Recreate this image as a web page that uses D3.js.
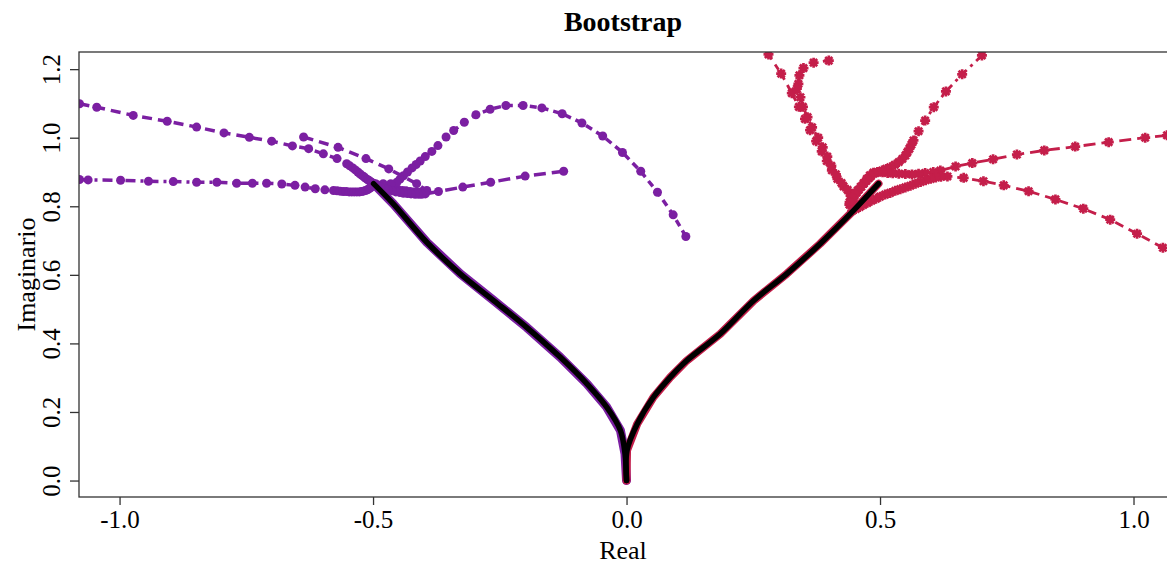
<!DOCTYPE html>
<html>
<head>
<meta charset="utf-8">
<script src="https://cdn.jsdelivr.net/npm/d3@7"></script>
<style>
  body { margin: 0; background: #fff; }
  text { font-family: "Liberation Serif", "Times New Roman", serif; }
</style>
</head>
<body>
<div id="plot"></div>
<script>
// Data: bootstrap root paths (Real, Imaginario)
var curveLeft = [[-0.499,0.866],[-0.460,0.807],[-0.394,0.695],[-0.328,0.603],[-0.262,0.525],[-0.197,0.447],
  [-0.131,0.360],[-0.078,0.282],[-0.039,0.214],[-0.012,0.146],[-0.003,0.078],[0.0,0.0]];
var curveRight = [[0.0,0.0],[0.001,0.088],[0.021,0.165],[0.053,0.243],[0.086,0.301],[0.119,0.350],
  [0.185,0.428],[0.251,0.525],[0.316,0.603],[0.382,0.691],[0.448,0.788],[0.497,0.866]];

var purpleTrail1 = [[-1.079,1.099],[-1.045,1.089],[-0.973,1.065],[-0.906,1.048],[-0.848,1.031],[-0.794,1.014],
  [-0.744,1.001],[-0.700,0.990],[-0.659,0.976],[-0.627,0.968],[-0.598,0.953],[-0.571,0.939],[-0.552,0.924],
  [-0.546,0.918],[-0.540,0.912],[-0.535,0.906],[-0.530,0.900],[-0.526,0.895],[-0.522,0.890],[-0.518,0.886],
  [-0.515,0.882],[-0.511,0.878],[-0.508,0.875],[-0.505,0.872],[-0.502,0.869],[-0.497,0.864]];
var purpleTrail2 = [[-0.637,1.002],[-0.569,0.972],[-0.514,0.939],[-0.469,0.909],[-0.414,0.866],[-0.394,0.846],
  [-0.400,0.844],[-0.405,0.842],[-0.412,0.842],[-0.420,0.842],[-0.427,0.843],[-0.435,0.845],[-0.442,0.846],
  [-0.450,0.848],[-0.457,0.850],[-0.465,0.852],[-0.472,0.854],[-0.480,0.857],[-0.486,0.859],[-0.492,0.862]];
var purpleTrail3 = [[-1.079,0.878],[-1.062,0.877],[-0.998,0.876],[-0.943,0.873],[-0.894,0.872],[-0.848,0.870],
  [-0.808,0.870],[-0.769,0.867],[-0.738,0.867],[-0.710,0.867],[-0.680,0.865],[-0.654,0.861],[-0.634,0.856],
  [-0.614,0.851],[-0.595,0.848],[-0.578,0.846],[-0.571,0.845],[-0.565,0.844],[-0.559,0.843],[-0.553,0.843],
  [-0.547,0.842],[-0.542,0.842],[-0.537,0.842],[-0.532,0.842],[-0.527,0.842],[-0.523,0.843],[-0.519,0.844],
  [-0.515,0.846],[-0.511,0.848],[-0.508,0.851],[-0.505,0.854],[-0.502,0.858],[-0.498,0.864]];
var purpleTrail4 = [[0.117,0.712],[0.092,0.775],[0.061,0.841],[0.028,0.902],[-0.008,0.957],[-0.047,1.005],
  [-0.088,1.043],[-0.127,1.070],[-0.167,1.087],[-0.204,1.094],[-0.238,1.094],[-0.269,1.083],[-0.297,1.067],
  [-0.320,1.045],[-0.341,1.021],[-0.356,1.002],[-0.372,0.977],[-0.384,0.960],[-0.397,0.945],[-0.407,0.932],
  [-0.415,0.922],[-0.423,0.912],[-0.432,0.900],[-0.440,0.889],[-0.447,0.879],[-0.453,0.870],[-0.465,0.866],
  [-0.480,0.866],[-0.495,0.866]];
var purpleTrail5 = [[-0.124,0.902],[-0.200,0.888],[-0.268,0.870],[-0.323,0.856],[-0.371,0.843],[-0.397,0.836],
  [-0.404,0.835],[-0.410,0.835],[-0.417,0.835],[-0.425,0.836],[-0.432,0.837],[-0.440,0.838],[-0.447,0.840],
  [-0.455,0.842],[-0.462,0.845],[-0.470,0.848],[-0.477,0.852],[-0.485,0.856],[-0.491,0.860],[-0.497,0.864]];

var redTrail1 = [[0.280,1.243],[0.305,1.187],[0.326,1.130],[0.340,1.090],[0.352,1.055],[0.362,1.022],[0.374,0.990],
  [0.385,0.960],[0.395,0.932],[0.405,0.905],[0.416,0.880],[0.428,0.858],[0.440,0.838],[0.445,0.825],[0.445,0.815],
  [0.440,0.805]];
var redTrail2 = [[0.399,1.225],[0.369,1.219],[0.349,1.203],[0.341,1.182],[0.339,1.157],[0.336,1.143],[0.343,1.118],
  [0.348,1.090],[0.357,1.060],[0.366,1.030],[0.378,1.000],[0.387,0.972],[0.396,0.945],[0.404,0.918],[0.413,0.893],
  [0.424,0.868],[0.436,0.848],[0.444,0.832],[0.446,0.818],[0.442,0.806]];
var redTrail3 = [[0.701,1.240],[0.662,1.185],[0.630,1.135],[0.606,1.089],[0.589,1.050],[0.576,1.019],[0.566,0.992],
  [0.562,0.980],[0.558,0.968],[0.554,0.958],[0.550,0.948],[0.544,0.938],[0.537,0.929],[0.529,0.921],[0.520,0.914],
  [0.512,0.909],[0.504,0.904],[0.495,0.899],[0.487,0.895],[0.482,0.888],[0.478,0.882],[0.473,0.874],[0.468,0.866],
  [0.463,0.857],[0.458,0.848],[0.454,0.840],[0.450,0.832],[0.447,0.825],[0.445,0.818],[0.442,0.811],[0.440,0.805]];
var redTrail4 = [[1.066,1.007],[1.023,1.000],[0.951,0.987],[0.885,0.974],[0.824,0.963],[0.770,0.951],[0.723,0.937],
  [0.682,0.926],[0.649,0.916],[0.619,0.904],[0.605,0.900],[0.589,0.897],[0.576,0.895],[0.563,0.893],[0.550,0.894],
  [0.537,0.895],[0.525,0.896],[0.515,0.897],[0.505,0.899],[0.495,0.900],[0.487,0.898],[0.480,0.890],[0.474,0.880],
  [0.468,0.868],[0.462,0.857],[0.456,0.846],[0.450,0.835],[0.445,0.824],[0.440,0.812]];
var redTrail5 = [[1.058,0.679],[1.007,0.720],[0.954,0.761],[0.901,0.793],[0.846,0.820],[0.793,0.844],[0.744,0.861],
  [0.704,0.873],[0.665,0.883],[0.633,0.887],[0.620,0.886],[0.610,0.884],[0.600,0.880],[0.590,0.876],[0.580,0.871],
  [0.570,0.866],[0.560,0.860],[0.550,0.855],[0.540,0.850],[0.530,0.845],[0.520,0.839],[0.510,0.834],[0.500,0.828],
  [0.492,0.822],[0.483,0.816],[0.475,0.810],[0.467,0.804],[0.460,0.798],[0.452,0.792],[0.445,0.787]];

var xTicks = [-1.0, -0.5, 0.0, 0.5, 1.0];
var yTicks = [0.0, 0.2, 0.4, 0.6, 0.8, 1.0, 1.2];

var purple = "#7b1fa2";
var red = "#c41e4a";

// SVG dimensions
var svgWidth = 1167;
var svgHeight = 567;

var margin = { top: 52, right: -2, bottom: 70, left: 79 };
var width = svgWidth - margin.left - margin.right;
var height = svgHeight - margin.top - margin.bottom;

var svg = d3.select("#plot")
  .append("svg")
  .attr("width", svgWidth)
  .attr("height", svgHeight);

var chartGroup = svg.append("g")
  .attr("transform", `translate(${margin.left}, ${margin.top})`);

var xScale = d3.scaleLinear().domain([-1.08, 1.07]).range([0, width]);
var yScale = d3.scaleLinear().domain([-0.048, 1.25]).range([height, 0]);

svg.append("clipPath").attr("id", "clip")
  .append("rect").attr("width", width).attr("height", height);

var plotArea = chartGroup.append("g").attr("clip-path", "url(#clip)");

var line = d3.line().x(d => xScale(d[0])).y(d => yScale(d[1]));

// bootstrap band under the fitted path
plotArea.append("path").datum(curveLeft)
  .attr("d", line).attr("fill", "none").attr("stroke", purple)
  .attr("stroke-width", 9).attr("stroke-linecap", "round").attr("stroke-linejoin", "round");
plotArea.append("path").datum(curveRight)
  .attr("d", line).attr("fill", "none").attr("stroke", red)
  .attr("stroke-width", 8).attr("stroke-linecap", "round").attr("stroke-linejoin", "round");

var purpleTrails = [
  { pts: purpleTrail1, dash: "10,6" },
  { pts: purpleTrail2, dash: "10,6" },
  { pts: purpleTrail3, dash: "10,5,3,5" },
  { pts: purpleTrail4, dash: "7,5" },
  { pts: purpleTrail5, dash: "12,6" }
];
var redTrails = [
  { pts: redTrail1, dash: "6,6" },
  { pts: redTrail2, dash: "6,6" },
  { pts: redTrail3, dash: "8,5,3,5" },
  { pts: redTrail4, dash: "12,6" },
  { pts: redTrail5, dash: "9,6" }
];

purpleTrails.forEach(function(t) {
  plotArea.append("path").datum(t.pts)
    .attr("d", line).attr("fill", "none").attr("stroke", purple)
    .attr("stroke-width", 3.5).attr("stroke-dasharray", t.dash);
  plotArea.selectAll(null).data(t.pts).enter()
    .append("circle")
    .attr("cx", d => xScale(d[0]))
    .attr("cy", d => yScale(d[1]))
    .attr("r", 4.5)
    .attr("fill", purple);
});

var star = "M-5,0H5M0,-5V5M-3.6,-3.6L3.6,3.6M-3.6,3.6L3.6,-3.6";
redTrails.forEach(function(t) {
  plotArea.append("path").datum(t.pts)
    .attr("d", line).attr("fill", "none").attr("stroke", red)
    .attr("stroke-width", 2.8).attr("stroke-dasharray", t.dash);
  plotArea.selectAll(null).data(t.pts).enter()
    .append("path")
    .attr("transform", d => `translate(${xScale(d[0])},${yScale(d[1])})`)
    .attr("d", star)
    .attr("fill", "none")
    .attr("stroke", red)
    .attr("stroke-width", 2.7);
});

// fitted path in black
[curveLeft, curveRight].forEach(function(c) {
  plotArea.append("path").datum(c)
    .attr("d", d3.line().curve(d3.curveCatmullRom).x(d => xScale(d[0])).y(d => yScale(d[1])))
    .attr("fill", "none").attr("stroke", "#000")
    .attr("stroke-width", 5.5).attr("stroke-linecap", "round");
});

// Box
chartGroup.append("rect")
  .attr("width", width).attr("height", height)
  .attr("fill", "none").attr("stroke", "#333").attr("stroke-width", 1.3);

// Axes
var fmt = d => d.toFixed(1);
var bottomAxis = d3.axisBottom(xScale).tickValues(xTicks).tickFormat(fmt).tickSize(8).tickPadding(5);
var leftAxis = d3.axisLeft(yScale).tickValues(yTicks).tickFormat(fmt).tickSize(9);

var xg = chartGroup.append("g")
  .attr("transform", `translate(0, ${height})`)
  .call(bottomAxis);
xg.select(".domain").remove();
xg.selectAll("line").attr("stroke", "#333").attr("stroke-width", 1.3);
xg.selectAll("text")
  .attr("font-family", "Liberation Serif, serif")
  .attr("font-size", 25).attr("fill", "#000");

var yg = chartGroup.append("g").call(leftAxis);
yg.select(".domain").remove();
yg.selectAll("line").attr("stroke", "#333").attr("stroke-width", 1.3);
yg.selectAll("text")
  .attr("font-family", "Liberation Serif, serif")
  .attr("font-size", 25).attr("fill", "#000")
  .attr("x", 0).attr("y", -19).attr("dy", null)
  .attr("text-anchor", "middle")
  .attr("transform", "rotate(-90)");

// Titles
svg.append("text")
  .attr("x", margin.left + width / 2 - 1).attr("y", 31)
  .attr("text-anchor", "middle")
  .attr("font-size", 28).attr("font-weight", "bold")
  .text("Bootstrap");

svg.append("text")
  .attr("x", margin.left + width / 2 - 1).attr("y", 559)
  .attr("text-anchor", "middle")
  .attr("font-size", 26)
  .text("Real");

svg.append("text")
  .attr("transform", `translate(35, ${margin.top + height / 2}) rotate(-90)`)
  .attr("text-anchor", "middle")
  .attr("font-size", 26)
  .text("Imaginario");
</script>
</body>
</html>
